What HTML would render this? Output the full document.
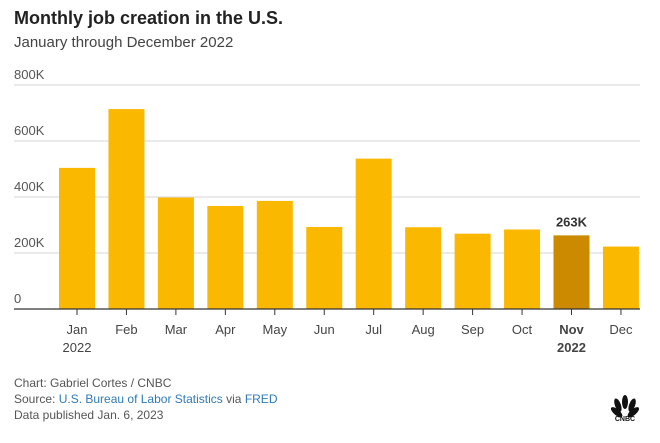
<!DOCTYPE html>
<html><head><meta charset="utf-8">
<style>
body{margin:0;width:660px;height:443px;background:#fff;font-family:"Liberation Sans",sans-serif;overflow:hidden;position:relative}
.t{position:absolute;left:14px;top:8px;font-size:18px;font-weight:bold;color:#222}
.s{position:absolute;left:14px;top:34px;font-size:15px;color:#444}
.f{position:absolute;left:14px;font-size:12px;color:#555}
.f a{color:#2f7ab8;text-decoration:none}
</style></head><body>
<div class="t">Monthly job creation in the U.S.</div>
<div class="s">January through December 2022</div>
<svg id="c" width="660" height="370" style="position:absolute;left:0;top:0"></svg>
<div class="f" style="top:376px">Chart: Gabriel Cortes / CNBC</div>
<div class="f" style="top:392px">Source: <a>U.S. Bureau of Labor Statistics</a> via <a>FRED</a></div>
<div class="f" style="top:408px">Data published Jan. 6, 2023</div>
<svg width="30" height="28" style="position:absolute;left:610px;top:394px">
<g fill="#111"><ellipse cx="8" cy="11" rx="3" ry="7" transform="rotate(-50 15 16)"/><ellipse cx="10" cy="9" rx="3" ry="7" transform="rotate(-20 15 16)"/><ellipse cx="15" cy="8" rx="3" ry="7"/><ellipse cx="20" cy="9" rx="3" ry="7" transform="rotate(20 15 16)"/><ellipse cx="22" cy="11" rx="3" ry="7" transform="rotate(50 15 16)"/>
<text x="15" y="27" font-size="7" font-weight="bold" text-anchor="middle" font-family="Liberation Sans">CNBC</text></g></svg>
<script>
const months=["Jan","Feb","Mar","Apr","May","Jun","Jul","Aug","Sep","Oct","Nov","Dec"];
const jobs=[504,714,398,368,386,293,537,292,269,284,263,223];
const yTicks=[0,200,400,600,800];
const yTickLabels=["0","200K","400K","600K","800K"];
const highlightIndex=10;
const svg=document.getElementById('c');const NS="http://www.w3.org/2000/svg";
function y(v){return 309-v*0.28;}
function x(i){return 59+i*49.45;}
const bw=36;
function mk(tag,a){const e=document.createElementNS(NS,tag);for(const k in a)e.setAttribute(k,a[k]);svg.appendChild(e);return e;}
yTicks.forEach((v,i)=>{
 if(v>0){const g=mk('line',{x1:14,x2:640,y1:y(v),y2:y(v),stroke:'#d6d6d6','stroke-width':1});
 
 }
 const t=mk('text',{x:14,y:y(v)-6,'font-size':13,fill:'#555'});t.textContent=yTickLabels[i];
 
 
});
jobs.forEach((v,i)=>{
 const r=mk('rect',{x:x(i),y:y(v),width:bw,height:309-y(v),fill:i===highlightIndex?'#cc8a00':'#fbb800'});
 
 
 const cx=x(i)+bw/2;
 const tk=mk('line',{x1:cx,x2:cx,y1:309,y2:315,stroke:'#333'});
 
 
 const t=mk('text',{x:cx,y:334,'font-size':13,fill:'#444','text-anchor':'middle','font-weight':i===highlightIndex?'bold':'normal'});t.textContent=months[i];
 
 
 if(i===0||i===highlightIndex){const t2=mk('text',{x:cx,y:352,'font-size':13,fill:'#444','text-anchor':'middle','font-weight':i===highlightIndex?'bold':'normal'});t2.textContent='2022';
 
 }
 if(i===highlightIndex){const l=mk('text',{x:cx,y:y(v)-9,'font-size':13,'font-weight':'bold',fill:'#333','text-anchor':'middle'});l.textContent=v+'K';
 
 }
});
const ax=mk('line',{x1:14,x2:640,y1:309,y2:309,stroke:'#333','stroke-width':1.2});


</script>
</body></html>
